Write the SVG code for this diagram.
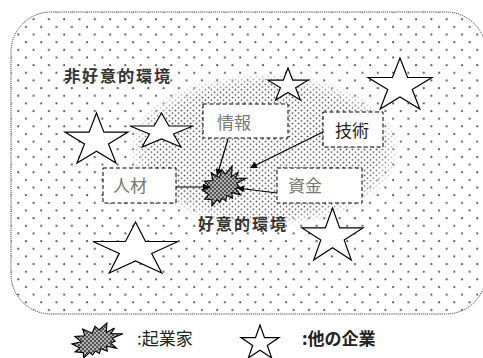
<svg xmlns="http://www.w3.org/2000/svg" width="483" height="358" viewBox="0 0 483 358">
<style>
.star{fill:#fff;stroke:#000;stroke-width:1.2;stroke-linejoin:miter}
.box{fill:#fff;stroke:#000;stroke-width:1;stroke-dasharray:4 2.5}
.burst{fill:url(#check);stroke:#000;stroke-width:1.1}
.lbl{font-family:"Noto Sans CJK JP","Noto Sans",sans-serif;font-size:16px;font-weight:bold;fill:#333;letter-spacing:2px}
.btx{font-family:"Noto Sans CJK JP","Noto Sans",sans-serif;font-size:17px;fill:#777}
.leg{font-family:"Noto Sans CJK JP","Noto Sans",sans-serif;font-size:17px;fill:#222}
.con{stroke:#000;stroke-width:1.2;fill:none;marker-end:url(#ah)}
</style>
<defs>
<pattern id="sparse" width="15.3" height="15.3" patternUnits="userSpaceOnUse">
<circle cx="3" cy="4" r="1.1" fill="#555"/>
<circle cx="10.65" cy="11.65" r="1.1" fill="#555"/>
</pattern>
<pattern id="dense" width="6" height="5.2" patternUnits="userSpaceOnUse">
<rect width="6" height="5.2" fill="#fff"/>
<circle cx="1.5" cy="1.3" r="0.95" fill="#555"/>
<circle cx="4.5" cy="3.9" r="0.95" fill="#555"/>
</pattern>
<pattern id="check" width="4" height="4" patternUnits="userSpaceOnUse">
<rect width="4" height="4" fill="#555"/>
<circle cx="1" cy="1" r="0.9" fill="#ddd"/>
<circle cx="3" cy="3" r="0.9" fill="#ddd"/>
</pattern>
<radialGradient id="fade" cx="0.5" cy="0.5" r="0.5">
<stop offset="0.82" stop-color="#fff"/>
<stop offset="1" stop-color="#000"/>
</radialGradient>
<mask id="emask" maskUnits="userSpaceOnUse" x="0" y="0" width="483" height="358">
<ellipse cx="264" cy="150" rx="138" ry="78" fill="url(#fade)"/>
</mask>
<marker id="ah" viewBox="0 0 10 10" refX="10" refY="5" markerWidth="9" markerHeight="7" markerUnits="userSpaceOnUse" orient="auto">
<path d="M0,0 L10,5 L0,10 z" fill="#000"/>
</marker>
</defs>
<rect width="483" height="358" fill="#fff"/>
<g id="environment">
<rect x="11" y="12" width="475" height="302" rx="40" fill="#fff"/>
<rect x="11" y="12" width="475" height="302" rx="40" fill="url(#sparse)" stroke="#444" stroke-width="1" stroke-dasharray="1.2 0.9"/>
<ellipse cx="264" cy="150" rx="138" ry="78" fill="url(#dense)" mask="url(#emask)"/>
<text class="lbl" x="64" y="82">非好意的環境</text>
<text class="lbl" x="198" y="230">好意的環境</text>
</g>
<g id="star-a"><polygon class="star" points="288,68 292.7,80.2 308,80.2 295.6,87.8 300.4,100 288,92.4 275.6,100 280.4,87.8 268,80.2 283.3,80.2"/></g>
<g id="star-b"><polygon class="star" points="400,58 407.6,77.5 432,77.5 412.2,89.5 419.8,109 400,97 380.2,109 387.8,89.5 368,77.5 392.4,77.5"/></g>
<g id="star-c"><polygon class="star" points="96.5,113 103.9,132.1 128,132.1 108.5,143.9 116,163 96.5,151.2 77,163 84.5,143.9 65,132.1 89.1,132.1"/></g>
<g id="star-d"><polygon class="star" points="161.5,113 168.9,126 193,126 173.5,134 181,147 161.5,139 142,147 149.5,134 130,126 154.1,126"/></g>
<g id="star-e"><polygon class="star" points="135.5,222 145.5,241.5 178,241.5 151.7,253.5 161.8,273 135.5,261 109.2,273 119.3,253.5 93,241.5 125.5,241.5"/></g>
<g id="star-f"><polygon class="star" points="332.5,208 339.7,227.9 363,227.9 344.2,240.1 351.3,260 332.5,247.7 313.7,260 320.8,240.1 302,227.9 325.3,227.9"/></g>
<g id="info"><rect class="box" x="203" y="104" width="85" height="34"/><text class="btx" x="217" y="128.5">情報</text></g>
<g id="tech"><rect class="box" x="323" y="112" width="60" height="35"/><text class="btx" x="335" y="137" style="fill:#222">技術</text></g>
<g id="people"><rect class="box" x="103" y="168" width="73" height="35"/><text class="btx" x="113" y="192">人材</text></g>
<g id="funds"><rect class="box" x="277" y="168" width="85" height="35"/><text class="btx" x="288" y="192">資金</text></g>
<g id="entrepreneur"><polygon class="burst" points="225.3,174 232.1,166 231.6,176.7 238.7,171.9 235.4,178.1 246,178.3 236.6,183.4 239.2,186.9 235.4,188.8 240.5,194.9 231.8,192.6 232.4,198.2 226.8,195.5 225.7,200.9 222.1,198.2 219.7,202.5 217.3,199.6 212,206 211.8,199.8 204.6,199 208.8,194.5 202,189.8 210,187.5 204.4,181.3 212.9,180.5 211.2,172.7 219.4,177.8 221.8,169.5"/></g>
<g id="connectors">
<line class="con" x1="228" y1="139" x2="217" y2="176"/>
<line class="con" x1="323" y1="132" x2="250" y2="168"/>
<line class="con" x1="176" y1="187" x2="210" y2="187"/>
<line class="con" x1="277" y1="193" x2="237" y2="188"/>
</g>
<g id="legend-entrepreneur">
<polygon class="burst" points="99.1,330 106.9,323 106.3,332.4 114.5,328.1 110.7,333.6 123,333.8 112.1,338.2 115.1,341.3 110.7,342.9 116.6,348.3 106.6,346.3 107.3,351.1 100.8,348.8 99.4,353.5 95.3,351.1 92.5,354.9 89.8,352.4 83.6,358 83.3,352.6 75,351.9 79.9,347.9 72,343.9 81.3,341.8 74.8,336.4 84.7,335.7 82.6,328.9 92.2,333.3 95,326.1"/>
<text class="leg" x="137" y="345">:起業家</text>
</g>
<g id="legend-other">
<polygon class="star" points="260,325 264.5,337.6 279,337.6 267.3,345.4 271.7,358 260,350.2 248.3,358 252.7,345.4 241,337.6 255.5,337.6"/>
<text class="leg" x="302" y="345" style="font-weight:bold">:他の企業</text>
</g>
</svg>
